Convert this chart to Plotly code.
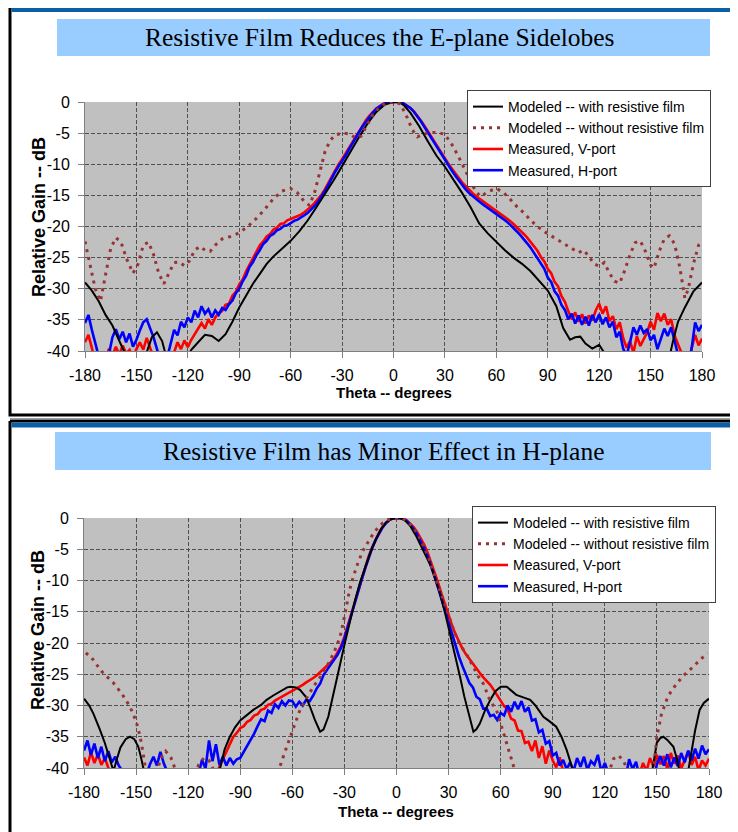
import plotly.graph_objects as go

# ---------------- DATA ----------------
TICKS_X = [-180, -150, -120, -90, -60, -30, 0, 30, 60, 90, 120, 150, 180]
TICKS_Y = [0, -5, -10, -15, -20, -25, -30, -35, -40]

TITLE_E = "Resistive Film Reduces the E-plane Sidelobes"
TITLE_H = "Resistive Film has Minor Effect in H-plane"
X_TITLE = "Theta -- degrees"
Y_TITLE = "Relative Gain -- dB"
NAMES = ["Modeled -- with resistive film", "Modeled -- without resistive film",
         "Measured, V-port", "Measured, H-port"]

# measured patterns sampled every 2 degrees from -180 to 180
THETA_MEAS = list(range(-180, 181, 2))

E_V = [
    -38.6, -37.4, -39.5, -42, -44, -43, -41.5, -39.6, -40.8, -39.3,      # -180..-162
    -40.6, -39.1, -40.4, -39.8, -41, -39.7, -38.6, -39.8, -37.9, -39.5,  # -160..-142
    -41, -43, -44, -43.5, -42, -41, -40.2, -38.6, -39.7, -38.3,          # -140..-122
    -39.4, -38.2, -37.3, -36.2, -35.5, -36.4, -34.9, -35.8, -34.6, -33.9,  # -120..-102
    -33.6, -32.6, -32.4, -31.1, -30.5, -29.3, -28.5, -27.2, -26.2, -25.0,  # -100..-82
    -24.2, -23.0, -22.4, -21.6, -21.2, -20.5, -20.2, -19.6, -19.5, -19.0,  # -80..-62
    -18.8, -18.6, -18.4, -18.1, -17.7, -17.3, -16.8, -16.2, -15.6, -14.9,  # -60..-42
    -14.0, -13.0, -11.9, -10.9, -10.0, -9.2, -8.3, -7.3, -6.4, -5.5,      # -40..-22
    -4.6, -3.7, -2.9, -2.2, -1.6, -1.05, -0.65, -0.3, -0.1, 0,            # -20..-2
    0, 0, -0.05, -0.25, -0.6, -1.0, -1.55, -2.2, -3.0, -3.8,              # 0..18
    -4.7, -5.6, -6.5, -7.4, -8.3, -9.1, -9.9, -10.7, -11.5, -12.2,        # 20..38
    -12.9, -13.5, -14.1, -14.6, -15.1, -15.5, -15.9, -16.3, -16.6, -17.0,  # 40..58
    -17.4, -17.8, -18.2, -18.6, -19.1, -19.6, -20.1, -20.6, -21.2, -21.8,  # 60..78
    -22.5, -23.2, -23.9, -24.9, -25.6, -26.8, -27.5, -28.9, -29.6, -31.2,  # 80..98
    -32.1, -33.6, -34.9, -33.8, -35.3, -34.1, -35.6, -34.3, -35.1, -33.5,  # 100..118
    -32.4, -34.0, -32.8, -35.2, -34.4, -36.5, -35.4, -37.9, -39.5, -38.4,  # 120..138
    -40.3, -37.6, -39.2, -38.1, -37.0, -35.3, -36.6, -33.9, -35.2, -34.0,  # 140..158
    -35.8, -34.9, -37.5, -38.9, -40.2, -41.5, -43, -39.5, -37.4, -39.1,    # 160..178
    -38.0,                                                                  # 180
]

E_H = [
    -35.5, -34.2, -36.6, -38.9, -41.5, -43, -42, -40.5, -37.8, -36.5,
    -38.1, -36.9, -38.6, -37.2, -39.3, -38.2, -36.7, -35.4, -34.9, -36.3,
    -37.8, -39.7, -41.5, -42.5, -41, -38.8, -36.6, -37.5, -35.3, -36.2,
    -34.6, -35.4, -33.5, -34.6, -32.8, -34.0, -33.3, -34.6, -33.5, -34.2,
    -33.1, -33.4, -32.5, -31.9, -30.7, -30.0, -28.8, -27.9, -26.5, -25.7,
    -24.6, -23.8, -22.8, -22.3, -21.5, -21.2, -20.6, -20.4, -19.9, -19.8,
    -19.4, -19.1, -18.9, -18.6, -18.2, -17.8, -17.3, -16.7, -16.0, -15.2,
    -14.3, -13.3, -12.2, -11.2, -10.3, -9.5, -8.6, -7.6, -6.6, -5.7,
    -4.8, -3.9, -3.1, -2.3, -1.7, -1.1, -0.7, -0.35, -0.1, 0,
    0, 0, -0.05, -0.25, -0.6, -1.0, -1.6, -2.3, -3.1, -4.0,
    -4.9, -5.8, -6.7, -7.6, -8.5, -9.4, -10.2, -11.0, -11.8, -12.6,
    -13.4, -14.0, -14.6, -15.1, -15.6, -16.0, -16.4, -16.8, -17.1, -17.5,
    -17.9, -18.3, -18.7, -19.2, -19.7, -20.2, -20.8, -21.4, -22.0, -22.7,
    -23.4, -24.3, -25.0, -26.1, -26.8, -28.2, -28.9, -30.4, -31.1, -32.6,
    -33.4, -34.9, -34.0, -35.6, -34.3, -35.8, -34.5, -35.9, -34.2, -35.4,
    -34.1, -35.7, -34.6, -36.2, -35.3, -37.8, -36.9, -39.6, -40.8, -38.6,
    -36.2, -37.4, -35.9, -37.1, -36.5, -38.3, -37.4, -39.7, -38.1, -36.4,
    -37.6, -36.2, -38.4, -40.6, -42, -43, -42, -39.5, -35.4, -36.8,
    -35.8,
]

H_V = [
    -38.3, -39.6, -37.5, -39.2, -37.8, -39.5, -38.4, -40.2, -41.5, -43,
    -44, -44, -44, -44, -44, -44, -44, -44, -44, -44,
    -44, -44, -44, -44, -44, -44, -44, -44, -44, -44,
    -44, -44, -44, -44, -43, -42, -41, -40.5, -41, -39.8,
    -38.6, -37.2, -36.1, -35.0, -34.4, -33.6, -33.3, -32.6, -32.3, -31.6,
    -31.4, -30.7, -30.5, -29.9, -29.7, -29.2, -28.9, -28.6, -28.2, -28.0,
    -27.6, -27.4, -27.0, -26.7, -26.3, -26.0, -25.6, -25.2, -24.7, -24.2,
    -23.7, -23.1, -22.5, -21.6, -20.5, -19.0, -17.2, -15.2, -13.3, -11.4,
    -9.6, -7.8, -6.1, -4.7, -3.4, -2.3, -1.4, -0.75, -0.3, -0.05,
    0, 0, -0.1, -0.4, -0.9, -1.5, -2.3, -3.2, -4.3, -5.6,
    -7.1, -8.7, -10.4, -12.2, -14.0, -15.6, -17.2, -18.6, -19.8, -20.9,
    -21.8, -22.6, -23.3, -24.0, -24.8, -25.5, -26.1, -26.7, -27.5, -28.3,
    -29.1, -30.1, -30.6, -32.1, -32.4, -34.0, -34.1, -36.0, -35.8, -37.3,
    -35.6, -38.4, -36.5, -39.3, -37.2, -38.8, -39.9, -38.3, -40.6, -42,
    -44, -44, -44, -44, -44, -44, -44, -44, -44, -44,
    -44, -44, -44, -44, -44, -44, -44, -44, -44, -44,
    -41, -39.2, -40.5, -38.4, -39.8, -37.9, -39.4, -38.1, -40.2, -37.6,
    -39.3, -38.0, -40.1, -38.6, -37.4, -39.5, -38.2, -40.4, -38.8, -39.6,
    -38.5,
]

H_H = [
    -37.2, -35.6, -37.9, -36.1, -38.4, -36.6, -38.9, -37.3, -39.1, -38.2,
    -39.6, -40.4, -42, -44, -44, -44, -44, -44, -41, -39.4,
    -38.2, -39.6, -37.4, -39.3, -40.6, -43, -44, -44, -44, -44,
    -44, -44, -43, -41, -38.7, -40.1, -35.6, -38.9, -36.2, -39.5,
    -38.2, -39.6, -38.4, -39.3, -38.6, -38.4, -37.4, -36.6, -35.5, -34.5,
    -33.3, -32.2, -32.5, -30.8, -31.2, -29.8, -30.4, -29.3, -30.0, -29.2,
    -29.3, -30.2, -29.4, -30.0, -29.1, -29.3, -28.4, -27.3, -26.5, -25.1,
    -24.3, -23.5, -22.8, -21.9, -20.8, -19.3, -17.4, -15.4, -13.5, -11.6,
    -9.8, -8.0, -6.3, -4.8, -3.5, -2.4, -1.5, -0.8, -0.3, -0.05,
    0, 0, -0.15, -0.5, -1.1, -1.8, -2.7, -3.7, -4.9, -6.2,
    -7.7, -9.4, -11.2, -13.1, -15.0, -16.9, -18.8, -20.6, -22.2, -23.7,
    -25.0, -26.4, -27.1, -28.6, -29.0, -30.5, -30.5, -31.7, -31.5, -32.3,
    -31.2, -31.6, -30.0, -31.0, -29.4, -30.6, -29.3, -31.0, -30.3, -32.4,
    -32.2, -34.3, -33.9, -36.1, -35.7, -38.0, -37.6, -39.6, -38.7, -40.2,
    -39.1, -40.5, -38.4, -39.8, -38.2, -40.3, -38.9, -39.5, -37.9, -40.6,
    -39.2, -41, -43, -44, -44, -44, -41.5, -38.6, -40.2, -39.0,
    -41.5, -43, -44, -44, -42, -39.4, -38.1, -39.6, -37.8, -39.9,
    -38.3, -39.7, -37.6, -39.1, -37.2, -38.8, -36.9, -38.5, -36.4, -37.8,
    -37.0,
]

# modeled patterns (theta, gain)
E_FILM_THETA = [-180, -176, -172, -168, -164, -161, -158, -155, -150, -145, -141, -138, -135,
                -133, -128, -122, -118, -114, -110, -106, -102, -98, -94, -90, -86, -82, -78,
                -74, -70, -65, -60, -55, -50, -45, -40, -35, -30, -25, -20, -15, -10, -5, 0, 3,
                6, 10, 15, 20, 25, 30, 35, 40, 45, 50, 55, 60, 65, 70, 75, 80, 85, 90, 95, 99,
                103, 106, 109, 112, 116, 120, 123, 127, 135, 145, 155, 161, 163, 166, 170, 175, 180]
E_FILM_GAIN = [-29, -30.3, -32, -34.2, -35.9, -37.8, -39.6, -41, -43, -41, -37.8, -37, -38.4,
               -40.5, -43, -42, -39.8, -38.6, -37.4, -37.6, -38.4, -37.3, -35.3, -33, -31, -29.2,
               -27.6, -26, -24.8, -23.5, -22.3, -20.8, -19, -16.9, -14.8, -12.6, -10.3, -7.9,
               -5.6, -3.4, -1.6, -0.4, 0, 0, -0.5, -1.8, -3.9, -6.3, -8.6, -10.4, -12.4, -14.6,
               -16.9, -19.5, -21.1, -22.5, -23.8, -25, -26, -27.2, -28.7, -30.3, -32.8, -36.3,
               -38.2, -37.8, -37.7, -38.8, -39.6, -39, -40.3, -43, -45, -45, -44, -41, -38.5,
               -35.3, -33, -30.4, -29]

E_NOFILM_THETA = [-180, -177, -174, -171, -168, -165, -162, -159, -156, -152, -149, -146, -143,
                  -140, -137, -134, -131, -128, -125, -122, -119, -116, -113, -110, -107, -104,
                  -100, -95, -90, -85, -80, -75, -70, -65, -60, -56, -52, -49, -46, -43, -40,
                  -37, -34, -30, -26, -22, -19, -16, -12, -8, -4, 0, 4, 8, 11, 14, 17, 21, 26,
                  30, 34, 38, 42, 45, 48, 51, 55, 60, 64, 68, 72, 76, 80, 85, 90, 95, 100, 104,
                  108, 111, 114, 117, 120, 123, 126, 129, 132, 135, 138, 141, 144, 147, 150,
                  152, 155, 158, 161, 164, 167, 170, 172, 175, 178, 180]
E_NOFILM_GAIN = [-22.4, -26, -30, -32, -28, -23.5, -21.8, -22.5, -25, -27.5, -26, -23, -22.5,
                 -24.5, -27.5, -29.2, -27.5, -25.8, -25.7, -26.3, -25.5, -23.8, -23.2, -23.8,
                 -24, -23, -22, -21.6, -21, -20, -18.7, -17.2, -15.5, -14.3, -13.9, -14.6, -16,
                 -16.6, -14.5, -11, -8, -6.2, -5.3, -5, -5.1, -5.8, -5.5, -4, -2, -0.8, -0.1, 0,
                 -0.3, -2.5, -4.5, -5.6, -5.2, -4.9, -4.9, -5.2, -6.8, -8.8, -11, -12.8, -14.4,
                 -15.2, -14.4, -13.9, -14.5, -15.6, -16.8, -17.8, -19, -20.2, -21.2, -22, -22.8,
                 -23.5, -24.2, -23.8, -24.8, -26, -26.4, -25.8, -27.5, -28.8, -29.1, -27, -24.5,
                 -22.6, -22.3, -24, -26.2, -26.7, -24, -22, -21.5, -22.8, -26.5, -31.5, -30,
                 -26, -23, -22.4]

H_FILM_THETA = [-180, -177, -174.6, -172, -170.8, -168, -166, -163, -161, -159, -156, -153.5,
                -151, -148.7, -147, -145, -140, -106, -102, -99, -96, -93, -90, -86, -82.5, -78,
                -74.8, -71, -67, -63, -61, -58, -55.6, -52, -49.8, -47, -44, -42, -39.3, -37,
                -34.4, -32, -30, -28, -26, -24, -21, -18, -15, -12, -9, -6, -3, 0, 2, 5, 8, 11,
                14, 17, 20, 23, 25, 28, 31, 34, 36.6, 39, 42.3, 44.3, 46, 48, 51, 54, 57, 60,
                63.5, 66, 69, 73, 77, 80, 84.6, 88, 92, 95, 98, 101.8, 105, 140, 147, 149.9,
                152, 153.7, 156, 159.5, 161.5, 163, 166, 168, 170, 172, 174.6, 177, 180]
H_FILM_GAIN = [-28.9, -30, -31.3, -33, -33.9, -36, -37.8, -40.5, -38.5, -36.7, -35.4, -35,
               -35.4, -36.6, -38.5, -41, -45, -45, -40.5, -37, -35, -33.5, -32.4, -31.5, -30.7,
               -29.9, -29.1, -28.4, -27.8, -27.1, -27, -27.1, -27.5, -28.7, -30.2, -32.3, -34.2,
               -33.8, -31.8, -28.8, -25.4, -22.8, -20.3, -17.8, -15.5, -13.3, -10.3, -7.8, -5.5,
               -3.5, -1.8, -0.7, -0.15, 0, 0, -0.4, -1.3, -2.7, -4.4, -6.3, -7.8, -10.4, -12,
               -15.2, -18.6, -22, -25.4, -28.5, -31.8, -34.2, -33.8, -32.9, -30.8, -29.1, -27.7,
               -27, -27, -27.6, -28.3, -28.7, -29.1, -30, -31.8, -32.5, -33.4, -35, -37.1,
               -40.5, -45, -45, -41, -36, -35.2, -35, -35.5, -36.6, -38.5, -40.5, -43, -40.5,
               -37, -34, -30.7, -29.6, -28.9]

H_NOFILM_THETA = [-179, -176, -170, -163, -158, -153.5, -150, -147.7, -146, -144.5, -142, -139,
                  -136, -133, -130, -127, -124, -117, -114, -111, -108, -105, -102, -72, -68,
                  -65, -61.3, -58, -55.6, -52, -47.9, -44, -40.2, -36, -32.5, -30.5, -28.7, -27,
                  -24.9, -22, -19.1, -16, -13.4, -10, -5.6, 0, 3, 6, 10, 14, 18, 21, 24, 27, 30,
                  33, 36.6, 40.4, 44, 47, 50, 54, 57.7, 60, 62.5, 65.5, 68.3, 71, 119, 122, 125,
                  128, 131, 134, 137, 145, 148, 150, 152.5, 155.6, 158, 161.4, 165, 169, 173,
                  177.7, 179]
H_NOFILM_GAIN = [-21.6, -22.2, -24.5, -26.4, -28.2, -30.2, -32.5, -35, -37.5, -40.5, -45, -42,
                 -38.5, -37.3, -38.3, -40.5, -45, -42, -39.5, -38.4, -38.8, -40.5, -45, -45,
                 -40.5, -38, -35, -32.5, -30.7, -28.9, -27, -25.5, -23.8, -21.5, -19, -16.5,
                 -13.7, -11.5, -9.4, -7, -5.1, -3.6, -2.5, -1.3, -0.3, 0, 0, -0.5, -1.6, -3.5,
                 -6, -8.5, -10.8, -13, -15.5, -18, -20.3, -21.8, -23.8, -25.3, -26.5, -29.3,
                 -30.8, -33, -35, -38, -40.5, -45, -45, -41, -38.5, -38, -39, -41, -45, -45,
                 -40.5, -35, -31.5, -29.1, -27.8, -26.5, -25.3, -24.3, -23.2, -21.9, -21.6]

# ---------------- STYLE ----------------
PAGE_OFF = 8            # the page body has an 8px margin
W, H = 738 - PAGE_OFF, 832 - PAGE_OFF
SANS = "Liberation Sans, Arial, sans-serif"
SERIF = "Liberation Serif, Times New Roman, serif"
C_FILM, C_NOFILM, C_V, C_H = "#000000", "#993333", "#FF0000", "#0000FF"


def px(x):
    """page pixel x -> paper fraction"""
    return (x - PAGE_OFF) / W


def py(y):
    """page pixel y -> paper fraction"""
    return 1 - (y - PAGE_OFF) / H


fig = go.Figure()

panels = [
    dict(xa="x", ya="y", leg="legend",
         series=[(THETA_MEAS, E_V), (THETA_MEAS, E_H),
                 (E_FILM_THETA, E_FILM_GAIN), (E_NOFILM_THETA, E_NOFILM_GAIN)]),
    dict(xa="x2", ya="y2", leg="legend2",
         series=[(THETA_MEAS, H_V), (THETA_MEAS, H_H),
                 (H_FILM_THETA, H_FILM_GAIN), (H_NOFILM_THETA, H_NOFILM_GAIN)]),
]
styles = [
    (NAMES[2], dict(color=C_V, width=2.6), 3),
    (NAMES[3], dict(color=C_H, width=2.6), 4),
    (NAMES[0], dict(color=C_FILM, width=2), 1),
    (NAMES[1], dict(color=C_NOFILM, width=3, dash="3px,5px"), 2),
]
for p in panels:
    for (xs, ys), (name, line, rank) in zip(p["series"], styles):
        fig.add_trace(go.Scatter(x=xs, y=ys, mode="lines", name=name, line=line,
                                 xaxis=p["xa"], yaxis=p["ya"], legend=p["leg"],
                                 legendrank=rank, hoverinfo="skip"))

axis_common = dict(
    showgrid=True, gridcolor="#505050", griddash="4px,2px", gridwidth=1,
    zeroline=False, showline=True, linecolor="#808080", linewidth=1,
    ticks="outside", ticklen=6, tickcolor="#808080",
    tickfont=dict(family=SANS, size=16, color="#000000"), automargin=False,
    fixedrange=True,
)
xcommon = dict(axis_common, range=[-180, 180], tickmode="array", tickvals=TICKS_X,
               ticktext=[str(v) for v in TICKS_X], ticklabelstandoff=4)
ycommon = dict(axis_common, range=[-40, 0], tickmode="array", tickvals=TICKS_Y,
               ticktext=[str(v) for v in TICKS_Y], ticklabelstandoff=5)

legend_common = dict(
    bgcolor="#FFFFFF", bordercolor="#404040", borderwidth=1,
    font=dict(family=SANS, size=14, color="#000000"),
    xanchor="left", yanchor="top", traceorder="normal", itemwidth=30,
)

shapes = []
# panel frames
shapes.append(dict(type="rect", xref="paper", yref="paper", x0=px(10), x1=px(732), y0=py(7),
                   y1=py(415), line=dict(color="#000000", width=3), layer="above"))
shapes.append(dict(type="rect", xref="paper", yref="paper", x0=px(11.5), x1=px(730.5),
                   y0=py(8), y1=py(12), fillcolor="#0B5FA5", line=dict(width=0)))
shapes.append(dict(type="line", xref="paper", yref="paper", x0=px(10), x1=px(733), y0=py(418.5),
                   y1=py(418.5), line=dict(color="#A0A0A0", width=1)))
for (x0, y0, x1, y1) in [(10, 421, 733, 421), (10, 421, 10, 840), (733, 421, 733, 840)]:
    shapes.append(dict(type="line", xref="paper", yref="paper", x0=px(x0), x1=px(x1),
                       y0=py(y0), y1=py(y1), line=dict(color="#000000", width=3)))
shapes.append(dict(type="rect", xref="paper", yref="paper", x0=px(11.5), x1=px(731.5),
                   y0=py(422.5), y1=py(427.5), fillcolor="#0B5FA5", line=dict(width=0)))
# title boxes
shapes.append(dict(type="rect", xref="paper", yref="paper", x0=px(57), x1=px(710), y0=py(19),
                   y1=py(56), fillcolor="#99CCFF", line=dict(width=0), layer="below"))
shapes.append(dict(type="rect", xref="paper", yref="paper", x0=px(55), x1=px(711), y0=py(432),
                   y1=py(470), fillcolor="#99CCFF", line=dict(width=0), layer="below"))


def note(text, x, y, font, angle=0):
    return dict(text=text, x=px(x), y=py(y), xref="paper", yref="paper", showarrow=False,
                xanchor="center", yanchor="middle", textangle=angle, font=font)


serif_font = dict(family=SERIF, size=25.5, color="#000000")
xt_font = dict(family=SANS, size=15, color="#000000")
yt_font = dict(family=SANS, size=18, color="#000000")
annotations = [
    note(TITLE_E, 380, 38, serif_font),
    note(TITLE_H, 383, 451, serif_font),
    note("<b>" + X_TITLE + "</b>", 393.5, 393, xt_font),
    note("<b>" + X_TITLE + "</b>", 396.5, 811, xt_font),
    note("<b>" + Y_TITLE + "</b>", 39, 217, yt_font, -90),
    note("<b>" + Y_TITLE + "</b>", 38, 630, yt_font, -90),
]

fig.update_layout(
    template="none",
    width=W, height=H,
    margin=dict(l=0, r=0, t=0, b=0, pad=0),
    paper_bgcolor="#FFFFFF", plot_bgcolor="#C0C0C0",
    showlegend=True,
    xaxis=dict(xcommon, domain=[px(85), px(702)], anchor="y"),
    yaxis=dict(ycommon, domain=[py(351), py(102)], anchor="x"),
    xaxis2=dict(xcommon, domain=[px(84), px(709)], anchor="y2"),
    yaxis2=dict(ycommon, domain=[py(768), py(518)], anchor="x2"),
    legend=dict(legend_common, x=px(467), y=py(90)),
    legend2=dict(legend_common, x=px(472), y=py(506)),
    shapes=shapes,
    annotations=annotations,
    hovermode=False,
)

fig.write_html("out.html")
